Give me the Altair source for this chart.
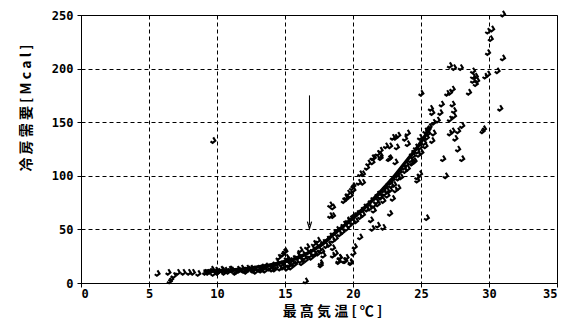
import altair as alt
import pandas as pd

# observed points: max temperature [°C] vs cooling demand [Mcal]
temp = [
    5.6, 6.4, 6.6, 6.8, 6.5, 7.1, 7.5, 7.9, 8.2, 8.6, 9.1, 9.3, 9.5, 9.7, 9.9, 10.1, 10.3, 10.5, 10.6, 10.8,
    11.0, 11.1, 11.3, 11.5, 11.6, 11.8, 12.0, 12.1, 12.3, 12.5, 12.6, 12.8, 13.0, 13.1, 13.3, 13.5, 13.6, 13.8,
    14.0, 14.1, 14.3, 14.4, 14.6, 14.7, 14.9, 14.5, 14.8, 15.0, 9.7, 16.5,
    15.1, 15.2, 15.3, 15.5, 15.6, 15.8, 16.0, 16.1, 16.3, 16.4, 16.6, 16.8, 17.0, 17.1, 17.3, 17.5, 17.6, 17.8,
    18.0, 18.1, 18.3, 18.5, 18.6, 18.8, 19.0, 19.1, 19.3, 19.5, 19.6, 19.8, 20.0, 20.1, 20.3, 20.5, 20.6, 20.8,
    21.0, 21.1, 21.3, 21.5, 21.6, 21.8, 22.0, 22.2, 22.4, 22.5, 22.7, 22.9, 23.0, 23.2, 23.4, 23.5, 23.7, 23.9,
    24.0, 24.2, 24.4, 24.5, 24.7, 24.9, 25.0, 25.2, 25.4, 25.5, 25.6,
    14.9, 15.1, 15.4, 15.9, 16.1, 16.6, 17.1, 17.4, 17.6, 17.8, 18.3, 18.3, 18.5, 18.9, 19.0, 19.4, 19.8, 19.4,
    19.6, 19.8, 20.0, 19.9,
    19.3, 19.5, 20.0, 19.9, 20.4, 20.7, 21.0, 21.4, 21.5, 21.8, 22.0, 22.0, 22.4, 22.7, 22.7, 22.9, 23.3, 23.8,
    24.0, 24.0, 23.1, 21.3, 21.5, 21.8, 22.0, 22.2, 22.5, 22.7, 22.9, 23.1, 23.3, 22.7, 22.2, 21.8, 21.4, 20.5,
    20.1, 20.0, 19.5, 19.8, 24.7,
    27.1, 27.4, 27.9, 28.8, 29.1, 29.0, 29.7, 28.5, 27.3, 27.1, 26.9, 25.0, 26.5, 25.7, 26.4, 25.8, 27.3, 27.4,
    27.4, 27.1, 26.2, 25.9, 27.3, 28.0, 27.7, 27.1, 27.5, 29.5, 25.9, 25.8, 27.7, 28.0, 26.6, 26.8, 24.9, 24.7,
    25.4, 24.3, 24.9, 25.3, 25.5,
    31.0, 30.2, 29.9, 30.1, 29.9, 31.0, 30.6, 29.9, 28.8, 29.0, 28.8, 30.8, 29.6,
    18.5, 18.5, 19.5, 20.5, 20.7, 21.1, 21.4, 22.0, 22.6, 23.1, 23.2, 24.6, 24.4, 19.6, 18.7, 19.0, 19.3, 18.9,
    18.5, 17.6, 17.4,
    9.6, 10.0, 10.4, 10.9, 11.4, 11.9, 12.2, 12.7, 13.2, 13.4, 13.9, 14.2, 14.8, 15.2, 15.4, 15.7, 16.2, 16.5,
    16.9, 17.2, 17.7, 18.2, 18.7, 19.2, 19.7, 20.2, 20.7, 21.2, 21.7, 22.3, 22.8, 23.3, 23.8, 24.3, 24.8, 25.3,
]
demand = [
    9, 10, 4, 7, 2, 10, 10, 10, 10, 9, 10, 10, 11, 9, 12, 11, 13, 10, 12, 11,
    13, 12, 10, 13, 12, 14, 12, 11, 13, 14, 12, 11, 14, 13, 15, 12, 16, 14,
    13, 17, 15, 19, 14, 18, 16, 24, 27, 30, 133, 2,
    14, 22, 17, 19, 23, 20, 25, 21, 27, 24, 29, 26, 32, 28, 34, 31, 36, 38,
    35, 41, 44, 40, 47, 50, 46, 52, 55, 51, 58, 60, 57, 63, 65, 62, 68, 71,
    69, 74, 77, 73, 80, 83, 81, 87, 90, 86, 94, 97, 92, 101, 104, 99, 108, 111,
    107, 115, 119, 114, 123, 127, 122, 131, 136, 140, 146,
    29, 24, 21, 26, 31, 34, 37, 40, 17, 26, 73, 63, 33, 21, 24, 21, 20, 80,
    84, 82, 91, 61,
    77, 80, 87, 89, 94, 102, 108, 113, 117, 121, 119, 124, 128, 128, 117, 136, 138, 135,
    140, 130, 113, 59, 68, 74, 80, 77, 82, 87, 79, 87, 89, 65, 52, 54, 51, 43,
    34, 28, 24, 19, 99,
    203, 201, 201, 193, 189, 186, 193, 178, 181, 178, 177, 177, 167, 163, 159, 159, 167, 161,
    156, 153, 152, 150, 142, 147, 142, 140, 135, 142, 140, 133, 125, 116, 116, 100, 102, 96,
    61, 121, 136, 142, 144,
    251, 237, 235, 228, 215, 210, 198, 195, 198, 193, 189, 163, 144,
    71, 63, 79, 102, 94, 112, 117, 117, 116, 136, 127, 127, 113, 59, 28, 24, 21, 20,
    26, 19, 28,
    13, 10, 12, 13, 11, 12, 14, 13, 12, 14, 15, 13, 15, 17, 15, 18, 19, 22,
    24, 27, 30, 36, 42, 48, 54, 58, 64, 70, 76, 84, 91, 98, 105, 112, 120, 128,
]

# fitted curve
fit_temp = [9, 10, 11, 12, 13, 14, 15, 16, 17, 18, 18.8, 19.5, 20, 21, 22, 23, 24, 24.7, 25.7]
fit_demand = [11, 11.5, 12, 13, 15, 17, 20, 24, 30, 39, 48, 55, 61, 72, 85, 99, 115, 126, 145]

# arrow
arrow_temp = [16.8]
arrow_top = [175]
arrow_tip = [54]

x_ticks = [0, 5, 10, 15, 20, 25, 30, 35]
y_ticks = [0, 50, 100, 150, 200, 250]
x_title = "最 高 気 温  [ ℃ ]"
y_title = "冷 房 需 要   [ M c a l ]"

pts = pd.DataFrame({"t": temp, "d": demand})
fit = pd.DataFrame({"t": fit_temp, "d": fit_demand})
arr = pd.DataFrame({"t": arrow_temp, "y1": arrow_top, "y2": arrow_tip})

font = "DejaVu Sans Mono"
cjk = "Noto Sans CJK JP"

xscale = alt.Scale(domain=[0, 35], nice=False, zero=False)
yscale = alt.Scale(domain=[0, 250], nice=False)

xaxis = alt.Axis(
    values=x_ticks, title=x_title, grid=True, gridDash=[4, 3], gridColor="black",
    gridOpacity=1, gridWidth=1, domainColor="black", tickColor="black", tickSize=4,
    labelFont=font, labelFontWeight="bold", labelFontSize=12, labelColor="black", labelPadding=1,
    titleFont=cjk, titleFontWeight="bold", titleFontSize=14, titleColor="black",
    titleX=251, titleY=28, titleBaseline="middle", titleAlign="center",
)
yaxis = alt.Axis(
    values=y_ticks, title=None, grid=True, gridDash=[4, 3], gridColor="black",
    gridOpacity=1, gridWidth=1, domainColor="black", tickColor="black", tickSize=4,
    labelFont=font, labelFontWeight="bold", labelFontSize=12, labelColor="black", labelPadding=4,
)

hook = "M 0.1 -1 L 0.8 0.1 L -0.1 0.8 L -0.8 0.3"

points = alt.Chart(pts).mark_point(
    shape=hook, size=36, filled=False, stroke="black", strokeWidth=2.1, opacity=1
).encode(
    x=alt.X("t:Q", scale=xscale, axis=xaxis),
    y=alt.Y("d:Q", scale=yscale, axis=yaxis),
)

line = alt.Chart(fit).mark_line(
    color="black", strokeWidth=3.5, interpolate="monotone"
).encode(
    x=alt.X("t:Q", scale=xscale),
    y=alt.Y("d:Q", scale=yscale),
)

arrow_shaft = alt.Chart(arr).mark_rule(color="black", strokeWidth=1).encode(
    x=alt.X("t:Q", scale=xscale),
    y=alt.Y("y1:Q", scale=yscale),
    y2="y2:Q",
)
arrow_head = alt.Chart(arr).mark_point(
    shape="M -0.6 -1 L 0 1 L 0.6 -1", size=50, filled=False, stroke="black",
    strokeWidth=1.2, opacity=1
).encode(
    x=alt.X("t:Q", scale=xscale),
    y=alt.Y("y2:Q", scale=yscale),
)

ytitle = alt.Chart(arr).mark_text(
    angle=270, font=cjk, fontWeight="bold", fontSize=14, color="black",
    align="center", baseline="middle"
).encode(
    x=alt.value(-54), y=alt.value(93), text=alt.value(y_title)
)

chart = alt.layer(points, line, arrow_shaft, arrow_head, ytitle).properties(
    width=476, height=268,
    padding={"left": 73, "top": 7, "right": 5, "bottom": 36},
    autosize="none",
    background="white",
).configure_view(stroke="black", strokeWidth=1)

chart.save("out.html", embed_options={"renderer": "svg", "actions": False})
